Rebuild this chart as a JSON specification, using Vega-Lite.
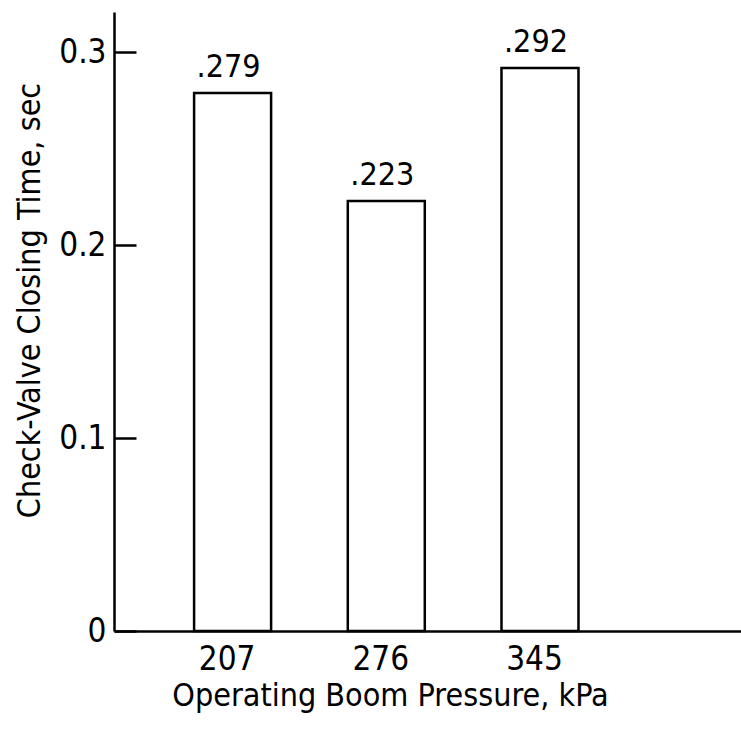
{
  "$schema": "https://vega.github.io/schema/vega-lite/v6.json",
  "width": 627,
  "height": 619,
  "autosize": "none",
  "padding": {"left": 114, "top": 12, "right": 0, "bottom": 101},
  "background": "white",
  "config": {
    "view": {"stroke": null},
    "font": "DejaVu Sans Condensed",
    "axis": {"grid": false, "domainColor": "black", "domainWidth": 2.5, "tickColor": "black", "tickWidth": 2.5, "labelColor": "black", "titleColor": "black", "labelFont": "DejaVu Sans Condensed", "titleFont": "DejaVu Sans Condensed", "titleFontWeight": "normal"}
  },
  "data": {
    "values": [
      {"pressure": 207, "time": 0.279, "label": ".279"},
      {"pressure": 276, "time": 0.223, "label": ".223"},
      {"pressure": 345, "time": 0.292, "label": ".292"}
    ]
  },
  "encoding": {
    "x": {
      "field": "pressure", "type": "quantitative",
      "scale": {"domain": [156, 433], "nice": false, "zero": false},
      "axis": {"values": [207, 276, 345], "ticks": false, "labelFontSize": 33, "labelPadding": 12, "labelOffset": -6, "title": "Operating Boom Pressure, kPa", "titleFontSize": 32, "titlePadding": 4, "titleX": 276}
    },
    "y": {
      "field": "time", "type": "quantitative",
      "scale": {"domain": [0, 0.321], "nice": false},
      "axis": {"values": [0, 0.1, 0.2, 0.3], "labelExpr": "datum.value == 0 ? '0' : format(datum.value, '.1f')", "ticks": false, "labelPadding": 8, "labelFontSize": 33, "grid": true, "gridColor": "black", "gridWidth": 2.5, "gridOpacity": 1, "gridDash": [22, 2000], "title": "Check-Valve Closing Time, sec", "titleFontSize": 32, "titlePadding": 12, "titleY": 288}
    }
  },
  "layer": [
    {"mark": {"type": "bar", "width": 77, "fill": "white", "stroke": "black", "strokeWidth": 2.5}},
    {"mark": {"type": "text", "baseline": "bottom", "dy": -9, "fontSize": 32, "dx": -4, "color": "black"}, "encoding": {"text": {"field": "label"}}}
  ]
}
